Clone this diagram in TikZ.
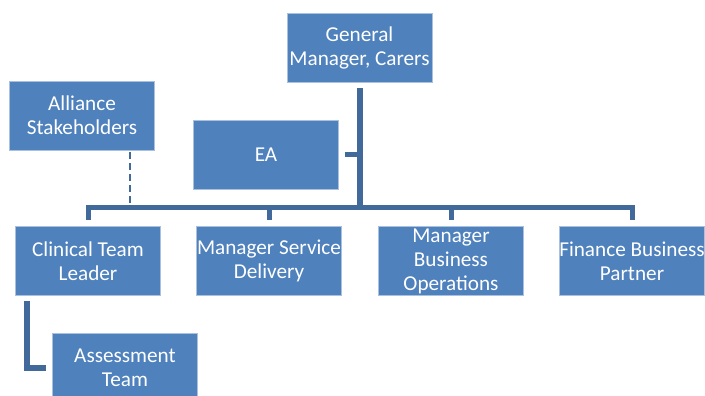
\documentclass[tikz,border=0pt]{standalone}
\usepackage{fontspec}
\setmainfont{Carlito}
\usetikzlibrary{calc}
\definecolor{boxblue}{HTML}{4F81BD}
\definecolor{linkblue}{HTML}{41699A}
\definecolor{edgeblue}{HTML}{A9C0DF}
\begin{document}
\begin{tikzpicture}[x=1pt,y=-1pt,
  role/.style={rectangle, fill=boxblue, draw=edgeblue, line width=0.6pt,
    minimum width=145pt, minimum height=69pt, inner sep=0pt,
    text=white, align=center, font=\fontsize{21.2}{24}\selectfont},
  conn/.style={draw=linkblue, line width=5pt},
  trunk/.style={draw=linkblue, line width=6pt},
  dotted link/.style={draw=linkblue, line width=2.4pt, dash pattern=on 7pt off 4pt}]
\useasboundingbox (0,0) rectangle (705,396);
\begin{scope}
\clip (0,0) rectangle (705,396);
% boxes
\node[role] (gm)  at (359.5,47.5) {General\\Manager, Carers};
\node[role] (all) at (82,115.5)   {Alliance\\Stakeholders};
\node[role] (ea)  at (266,154.5)  {EA};
\node[role] (cl)  at (88,261)     {Clinical Team\\Leader};
\node[role] (msd) at (269,261)    {Manager Service\\Delivery};
\node[role] (mbo) at (451,261)    {Manager\\Business\\Operations};
\node[role] (fb)  at (632,261)    {Finance Business\\Partner};
\node[role] (at)  at (125,367.5)  {Assessment\\Team};
% horizontal bus level
\coordinate (bus) at (360,207.5);
% connectors
\draw[trunk] ([yshift=-6pt]gm.south) -- ([yshift=-2.5pt]gm.south |- bus);
\draw[conn] ([xshift=6pt]ea.east) -- (ea.east -| gm.south);
\draw[conn] ([yshift=6pt]cl.north) |- (gm.south |- bus) -| ([yshift=6pt]fb.north);
\draw[conn] (msd.north |- bus) -- ([yshift=6pt]msd.north);
\draw[conn] (mbo.north |- bus) -- ([yshift=6pt]mbo.north);
\draw[dotted link] ([xshift=-25pt,yshift=-2pt]all.south east) -- ([xshift=-25pt,yshift=4.5pt]all.south east |- bus);
\draw[trunk] ([xshift=12pt,yshift=-5pt]cl.south west) |- ([xshift=-6pt]at.west);
\end{scope}
\end{tikzpicture}
\end{document}
